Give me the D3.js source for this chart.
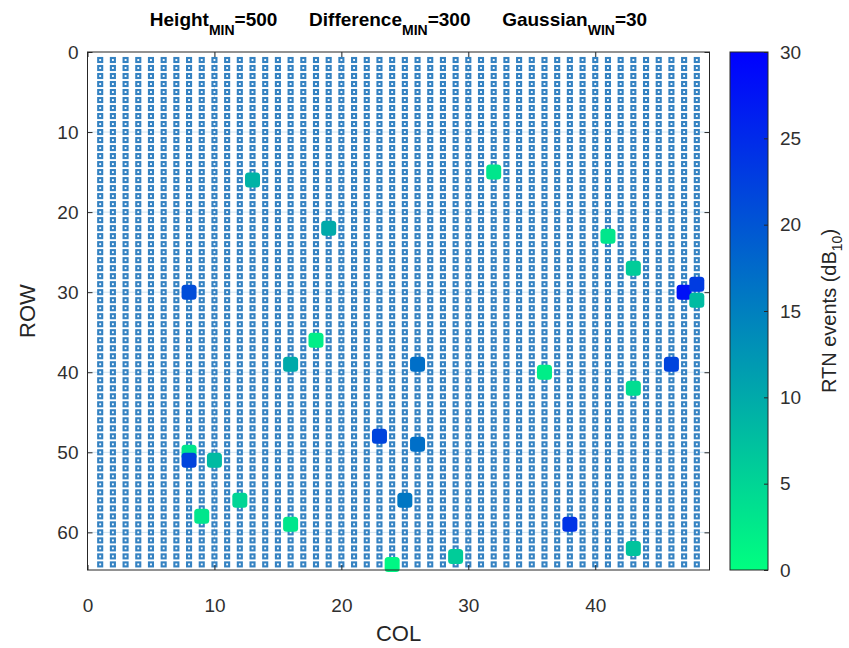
<!DOCTYPE html>
<html>
<head>
<meta charset="utf-8">
<script src="https://cdn.jsdelivr.net/npm/d3@7"></script>
<style>
  body { margin: 0; background: #fff; }
  svg { display: block; font-family: "Liberation Sans", Arial, sans-serif; }
  .tick text { fill: #303030; }
</style>
</head>
<body>
<svg id="chart" width="849" height="648"></svg>
<script>
// pixel grid size
const gridCols = 48;
const gridRows = 64;

// detected RTN events
const eventCols = [13, 32, 19, 41, 43, 8, 47, 48, 48, 18, 16, 26, 36, 46, 43, 23, 26, 8, 8, 10, 12, 25, 9, 16, 38, 43, 29, 24];
const eventRows = [16, 15, 22, 23, 27, 30, 30, 29, 31, 36, 39, 39, 40, 39, 42, 48, 49, 50, 51, 51, 56, 56, 58, 59, 59, 62, 63, 64];
const eventValues = [9, 3, 10, 3, 6, 21, 28, 23, 8, 2, 10, 17, 2, 22, 4, 22, 17, 3, 22, 8, 5, 16, 3, 3, 24, 7, 6, 1];

const xTicks = [0, 10, 20, 30, 40];
const yTicks = [0, 10, 20, 30, 40, 50, 60];
const cbTicks = [0, 5, 10, 15, 20, 25, 30];

const titleParts = [
  ['Height', 'MIN', '=500'],
  ['Difference', 'MIN', '=300'],
  ['Gaussian', 'WIN', '=30']
];

const plot = { left: 87.5, right: 709.5, top: 52, bottom: 570 };
const cbar = { left: 730, right: 768 };
const axisColor = '#262626';
const gridMarkerColor = '#3482c2';

const svg = d3.select('#chart');

const x = d3.scaleLinear().domain([0, 49]).range([plot.left, plot.right]);
const y = d3.scaleLinear().domain([0, 64.7]).range([plot.top, plot.bottom]);
const c = d3.scaleLinear().domain([0, 30]).range([plot.bottom, plot.top]);

// flipped "winter" colormap: 0 -> spring green, 30 -> blue
const winter = v => {
  const t = Math.max(0, Math.min(1, v / 30));
  return d3.rgb(0, 255 * (1 - t), 255 * (0.5 + 0.5 * t)).formatHex();
};

// faint grid
const grid = svg.append('g').attr('stroke', '#cfe2ef').attr('stroke-width', 1);
grid.selectAll('line.gx').data(xTicks.slice(1)).enter().append('line')
  .attr('x1', d => x(d)).attr('x2', d => x(d))
  .attr('y1', plot.top).attr('y2', plot.bottom);
grid.selectAll('line.gy').data(yTicks.slice(1)).enter().append('line')
  .attr('x1', plot.left).attr('x2', plot.right)
  .attr('y1', d => y(d)).attr('y2', d => y(d));

// every pixel of the array
const cells = [];
for (let r = 1; r <= gridRows; r++) {
  for (let col = 1; col <= gridCols; col++) cells.push([col, r]);
}
svg.append('g')
  .selectAll('rect')
  .data(cells)
  .enter().append('rect')
    .attr('x', d => x(d[0]) - 2)
    .attr('y', d => y(d[1]) - 2)
    .attr('width', 4)
    .attr('height', 4)
    .attr('fill', '#fff')
    .attr('stroke', gridMarkerColor)
    .attr('stroke-width', 2.1);

// events
const events = eventCols.map((col, i) => ({ col, row: eventRows[i], value: eventValues[i] }));
svg.append('g')
  .selectAll('rect')
  .data(events)
  .enter().append('rect')
    .attr('x', d => x(d.col) - 7.5)
    .attr('y', d => y(d.row) - 7.5)
    .attr('width', 15)
    .attr('height', 15)
    .attr('rx', 3.5)
    .attr('fill', d => winter(d.value));

// axes box with inward ticks
const tickStyle = g => {
  g.select('.domain').remove();
  g.selectAll('.tick line').attr('stroke', axisColor);
  g.selectAll('.tick text').attr('font-size', 19);
};
svg.append('g')
  .attr('transform', `translate(0,${plot.bottom})`)
  .call(d3.axisBottom(x).tickValues(xTicks).tickSizeInner(-5).tickPadding(29))
  .call(tickStyle);
svg.append('g')
  .attr('transform', `translate(0,${plot.top})`)
  .call(d3.axisTop(x).tickValues(xTicks).tickSizeInner(-5).tickFormat(''))
  .call(tickStyle);
svg.append('g')
  .attr('transform', `translate(${plot.left},0)`)
  .call(d3.axisLeft(y).tickValues(yTicks).tickSizeInner(-5).tickPadding(9))
  .call(tickStyle);
svg.append('g')
  .attr('transform', `translate(${plot.right},0)`)
  .call(d3.axisRight(y).tickValues(yTicks).tickSizeInner(-5).tickFormat(''))
  .call(tickStyle);
svg.append('rect')
  .attr('x', plot.left).attr('y', plot.top)
  .attr('width', plot.right - plot.left).attr('height', plot.bottom - plot.top)
  .attr('fill', 'none').attr('stroke', axisColor).attr('stroke-width', 1);

// axis labels
svg.append('text')
  .attr('x', (plot.left + plot.right) / 2).attr('y', 641)
  .attr('text-anchor', 'middle').attr('font-size', 22).attr('fill', axisColor)
  .text('COL');
svg.append('text')
  .attr('transform', `translate(35,${(plot.top + plot.bottom) / 2}) rotate(-90)`)
  .attr('text-anchor', 'middle').attr('font-size', 22).attr('fill', axisColor)
  .text('ROW');

// title
const title = svg.append('text')
  .attr('x', (plot.left + plot.right) / 2).attr('y', 26)
  .attr('text-anchor', 'middle')
  .attr('font-weight', 'bold').attr('font-size', 19).attr('fill', '#000')
  .style('white-space', 'pre');
titleParts.forEach((p, i) => {
  title.append('tspan').text((i ? '      ' : '') + p[0]);
  title.append('tspan').attr('dy', 9).attr('font-size', 14).text(p[1]);
  title.append('tspan').attr('dy', -9).text(p[2]);
});

// colorbar
const defs = svg.append('defs');
const grad = defs.append('linearGradient')
  .attr('id', 'cbgrad').attr('x1', 0).attr('x2', 0).attr('y1', 1).attr('y2', 0);
grad.selectAll('stop')
  .data(d3.range(0, 31, 5))
  .enter().append('stop')
    .attr('offset', d => d / 30)
    .attr('stop-color', d => winter(d));
svg.append('rect')
  .attr('x', cbar.left).attr('y', plot.top)
  .attr('width', cbar.right - cbar.left).attr('height', plot.bottom - plot.top)
  .attr('fill', 'url(#cbgrad)').attr('stroke', axisColor).attr('stroke-width', 1);
svg.append('g')
  .attr('transform', `translate(${cbar.right},0)`)
  .call(d3.axisRight(c).tickValues(cbTicks).tickSizeInner(-4).tickPadding(12))
  .call(tickStyle);

const cbLabel = svg.append('text')
  .attr('transform', `translate(836,${(plot.top + plot.bottom) / 2}) rotate(-90)`)
  .attr('text-anchor', 'middle').attr('font-size', 20).attr('fill', axisColor);
cbLabel.append('tspan').text('RTN events (dB');
cbLabel.append('tspan').attr('dy', 6).attr('font-size', 14).text('10');
cbLabel.append('tspan').attr('dy', -6).text(')');
</script>
</body>
</html>
